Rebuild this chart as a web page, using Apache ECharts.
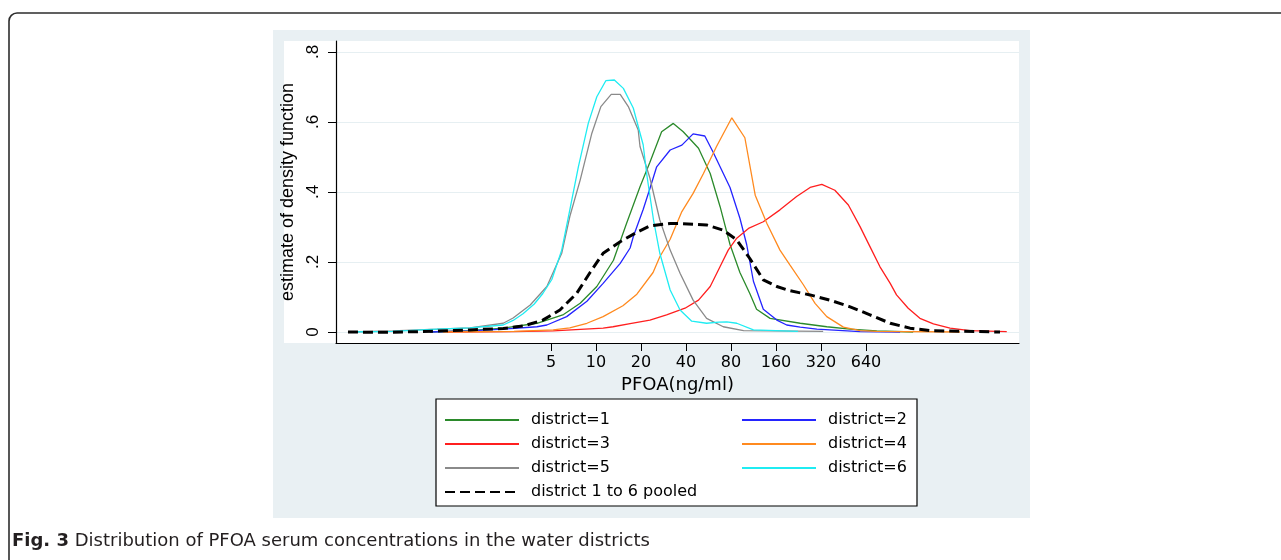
<!DOCTYPE html>
<html><head><meta charset="utf-8">
<script src="https://cdn.jsdelivr.net/npm/echarts@6/dist/echarts.min.js"></script>
<style>html,body{margin:0;padding:0;background:#fff}#c{width:1281px;height:560px}</style>
</head><body><div id="c"></div>
<script>
// x tick labels: PFOA (ng/ml) on a log scale; y tick labels
const xTickPFOA = [5, 10, 20, 40, 80, 160, 320, 640];
const yTickValues = [0, 0.2, 0.4, 0.6, 0.8];
const yTickLabels = ['0', '.2', '.4', '.6', '.8'];

// points: [log2(PFOA ng/ml), estimated density]
const district1 = [[-0.37,0],[0.5,0.004],[1.26,0.011],[2.01,0.025],[2.60,0.05],[2.97,0.082],[3.34,0.13],[3.71,0.205],[4.00,0.31],[4.30,0.415],[4.52,0.485],[4.78,0.572],[5.04,0.596],[5.26,0.572],[5.60,0.525],[5.86,0.453],[6.08,0.358],[6.30,0.25],[6.52,0.17],[6.74,0.11],[6.89,0.065],[7.19,0.039],[7.86,0.025],[8.45,0.015],[8.97,0.008],[9.56,0.003],[10.37,0]];
const district2 = [[-0.37,0],[0.5,0.003],[1.26,0.008],[2.01,0.015],[2.23,0.02],[2.67,0.044],[3.12,0.088],[3.48,0.139],[3.86,0.196],[4.08,0.24],[4.15,0.272],[4.37,0.35],[4.52,0.41],[4.67,0.472],[4.97,0.52],[5.23,0.534],[5.48,0.566],[5.74,0.56],[5.92,0.515],[6.30,0.413],[6.52,0.325],[6.67,0.25],[6.82,0.145],[7.04,0.065],[7.34,0.034],[7.56,0.02],[7.86,0.014],[8.23,0.008],[9.19,0.001],[10.08,0]];
const district3 = [[0.01,0],[1.5,0.001],[2.37,0.003],[3.48,0.011],[3.70,0.015],[4.08,0.024],[4.52,0.034],[4.89,0.049],[5.30,0.068],[5.60,0.091],[5.86,0.13],[6.08,0.187],[6.26,0.234],[6.45,0.268],[6.71,0.296],[7.04,0.315],[7.41,0.349],[7.78,0.387],[8.08,0.413],[8.34,0.422],[8.63,0.405],[8.93,0.363],[9.19,0.301],[9.41,0.244],[9.63,0.187],[9.86,0.139],[10.00,0.106],[10.26,0.068],[10.52,0.039],[10.82,0.023],[11.19,0.011],[11.63,0.004],[12.45,0.001]];
const district4 = [[-0.08,0],[1.5,0.002],[2.37,0.006],[2.74,0.012],[3.12,0.025],[3.48,0.044],[3.92,0.075],[4.23,0.108],[4.59,0.17],[4.74,0.215],[4.97,0.265],[5.23,0.344],[5.48,0.396],[5.71,0.453],[6.00,0.53],[6.34,0.612],[6.63,0.555],[6.86,0.391],[7.12,0.31],[7.41,0.234],[7.63,0.192],[7.93,0.135],[8.19,0.082],[8.45,0.044],[8.82,0.014],[9.19,0.004],[9.56,0.002],[11.41,0]];
const district5 = [[-2.19,0],[-1.2,0.003],[-0.21,0.008],[0.52,0.012],[1.26,0.025],[1.48,0.04],[1.86,0.077],[2.23,0.13],[2.56,0.225],[2.74,0.33],[2.97,0.434],[3.23,0.568],[3.43,0.644],[3.66,0.679],[3.86,0.679],[4.04,0.644],[4.26,0.577],[4.30,0.53],[4.52,0.44],[4.74,0.32],[4.97,0.234],[5.19,0.168],[5.48,0.091],[5.78,0.039],[6.15,0.015],[6.60,0.004],[8.37,0.002]];
const district6 = [[-2.19,0],[-1.2,0.002],[-0.21,0.008],[0.52,0.012],[1.26,0.02],[1.48,0.033],[1.70,0.052],[1.95,0.08],[2.14,0.11],[2.34,0.15],[2.56,0.234],[2.74,0.349],[2.93,0.472],[3.15,0.596],[3.34,0.672],[3.54,0.718],[3.73,0.72],[3.93,0.696],[4.15,0.64],[4.37,0.535],[4.45,0.45],[4.60,0.32],[4.74,0.225],[4.97,0.12],[5.19,0.063],[5.45,0.031],[5.78,0.025],[6.05,0.028],[6.23,0.029],[6.45,0.025],[6.82,0.006],[7.81,0.002]];
const pooled = [[-2.19,0],[-1.41,-0.001],[-0.3,0.002],[0.52,0.006],[1.26,0.01],[1.70,0.017],[2.14,0.034],[2.52,0.063],[2.89,0.11],[3.19,0.17],[3.48,0.225],[3.86,0.258],[4.23,0.285],[4.52,0.303],[4.97,0.31],[5.19,0.31],[5.78,0.306],[6.15,0.291],[6.45,0.263],[6.74,0.21],[7.04,0.149],[7.34,0.13],[7.63,0.118],[8.08,0.106],[8.52,0.091],[8.97,0.072],[9.41,0.049],[9.86,0.025],[10.30,0.011],[10.74,0.004],[12.30,0]];

const seriesNames = ['district=1','district=2','district=3','district=4','district=5','district=6','district 1 to 6 pooled'];
const seriesData = [district1, district2, district3, district4, district5, district6, pooled];
const seriesColors = ['#2b8a2b','#2424ff','#ff1f1f','#ff8a1f','#8a8a8a','#1fecf2','#000000'];

const FONT = 'Liberation Sans, Arial, sans-serif';
const WIDE = 'DejaVu Sans, Verdana, sans-serif';
const chart = echarts.init(document.getElementById('c'), null, {renderer: 'canvas'});

const series = seriesData.map((d, i) => ({
  name: seriesNames[i],
  type: 'line',
  data: d,
  symbol: 'none',
  smooth: false,
  z: i === 6 ? 5 : 3,
  lineStyle: i === 6
    ? {color: seriesColors[i], width: 3, type: [10, 5]}
    : {color: seriesColors[i], width: 1.3},
  itemStyle: {color: seriesColors[i]}
}));

const xTickPos = xTickPFOA.map(v => Math.log2(v));
const legendCommon = {
  orient: 'vertical', top: 406, itemWidth: 74, itemHeight: 14, itemGap: 6,
  itemStyle: {color: 'rgba(0,0,0,0)', borderColor: 'rgba(0,0,0,0)', borderWidth: 0, opacity: 0},
  textStyle: {fontSize: 16, color: '#000', fontFamily: WIDE, lineHeight: 18, padding: [0,0,0,7]}
};

chart.setOption({
  animation: false,
  backgroundColor: '#ffffff',
  textStyle: {fontFamily: FONT},
  grid: {left: 336, right: 262, top: 41, bottom: 217, containLabel: false},
  xAxis: {
    type: 'value', min: -2.456, max: 12.722,
    name: 'PFOA(ng/ml)', nameLocation: 'middle', nameGap: 28,
    nameTextStyle: {fontSize: 18, color: '#000', fontFamily: WIDE},
    axisLine: {show: true, onZero: false, lineStyle: {color: '#000', width: 1.2}},
    axisTick: {show: true, length: 8, customValues: xTickPos, lineStyle: {color: '#000', width: 1}},
    axisLabel: {customValues: xTickPos, margin: 12, fontSize: 16, color: '#000', fontFamily: WIDE,
      formatter: v => String(Math.round(Math.pow(2, v)))},
    splitLine: {show: false}
  },
  yAxis: {
    type: 'value', min: -0.0314, max: 0.8314,
    name: 'estimate of density function', nameLocation: 'middle', nameGap: 34,
    nameTextStyle: {fontSize: 18, color: '#000', fontFamily: FONT},
    axisLine: {show: true, onZero: false, lineStyle: {color: '#000', width: 1.2}},
    axisTick: {show: true, length: 8, customValues: yTickValues, lineStyle: {color: '#000', width: 1}},
    axisLabel: {customValues: yTickValues, rotate: 90, margin: 14, fontSize: 17, color: '#000', fontFamily: FONT,
      formatter: v => { const i = yTickValues.findIndex(t => Math.abs(t - v) < 1e-6); return i >= 0 ? yTickLabels[i] : ''; }},
    splitLine: {show: true, lineStyle: {color: '#e6eff2', width: 1.2}}
  },
  legend: [
    Object.assign({data: [seriesNames[0], seriesNames[2], seriesNames[4], seriesNames[6]], left: 439}, legendCommon),
    Object.assign({data: [seriesNames[1], seriesNames[3], seriesNames[5]], left: 736}, legendCommon)
  ],
  graphic: [
    {type: 'rect', z: -30, silent: true, shape: {x: 273, y: 30, width: 757, height: 488}, style: {fill: '#e9f0f3'}},
    {type: 'rect', z: -20, silent: true, shape: {x: 284, y: 41, width: 735, height: 302}, style: {fill: '#ffffff'}},
    {type: 'rect', z: 1, silent: true, shape: {x: 436, y: 399, width: 481, height: 107}, style: {fill: '#ffffff', stroke: '#000', lineWidth: 1.2}},
    {type: 'rect', z: 1, silent: true, shape: {x: 9, y: 13, width: 1400, height: 700, r: 8}, style: {fill: 'none', stroke: '#2d2d2d', lineWidth: 1.6}},
    {type: 'text', z: 1, silent: true, x: 12, y: 541,
     style: {text: '{b|Fig. 3} Distribution of PFOA serum concentrations in the water districts',
       verticalAlign: 'middle', fill: '#231f20', fontSize: 18, fontFamily: WIDE,
       rich: {b: {fontWeight: 'bold', fontSize: 18, fill: '#231f20', fontFamily: WIDE}}}}
  ],
  series: series
});
</script></body></html>
